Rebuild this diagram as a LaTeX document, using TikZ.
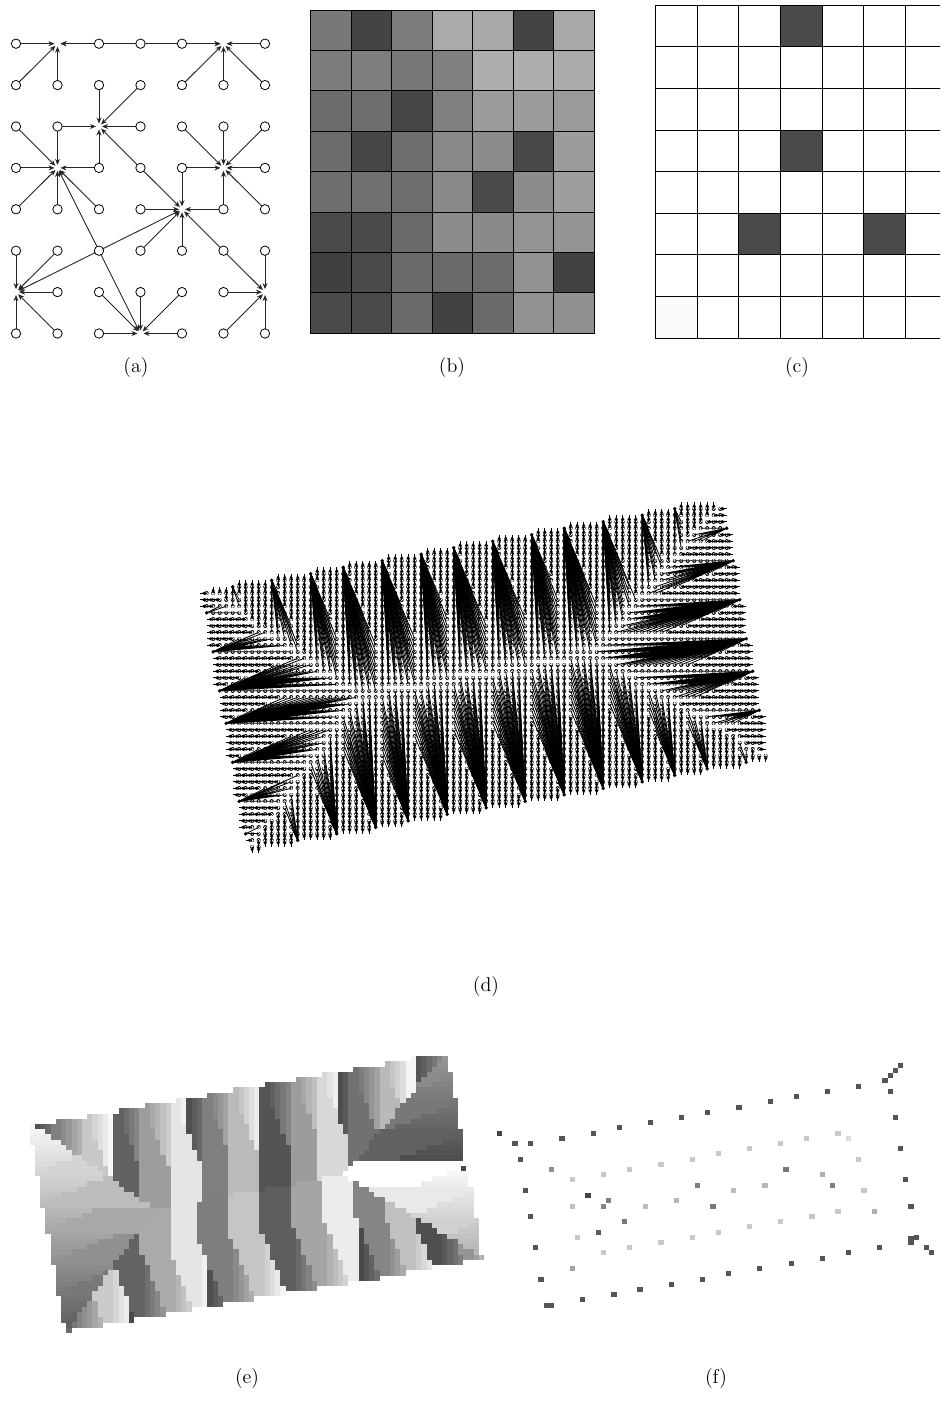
\documentclass[tikz,border=0pt]{standalone}
\usetikzlibrary{arrows.meta}
\newcount\gt
\def\sawg#1#2{\gt=\numexpr #1\relax \divide\gt by #2\relax
  \gt=\numexpr #1-\gt*#2\relax \edef\G{\the\numexpr 74+\gt*174/#2\relax}}
\def\topg#1{\sawg{(#1)*100+50+2910}{1455}}
\def\botg#1{\sawg{(#1)*100-320+14700}{1470}}
\def\leftg#1{\edef\G{\the\numexpr 248-4*(#1)\relax}}
\def\rightg#1{\ifnum#1<7 \edef\G{\the\numexpr 74+(7-(#1))*38/10\relax}\else\edef\G{\the\numexpr 255-((#1)-7)*43/10\relax}\fi}
\def\toplist{-2/0,4/-1,10/-2,16/-3,21/-4,27/-5,33/-6,38/-7,44/-8,50/-9,55/-10,61/-11,67/-12,72/-13}
\def\botlist{8/39,14/38,20/37,26/36,31/35,37/34,43/33,49/32,55/31,61/30,67/29,72/28,77/27,83/26,88/25}
\def\leftlist{0/3,1/9,2/15,3/20,4/26,5/32,6/37,7/44}
\def\rightlist{79/-16,80/-10,81/-5,82/1,83/7,84/12,85/18,86/25}
\def\reallist{4/-1,10/-2,16/-3,21/-4,27/-5,33/-6,38/-7,44/-8,50/-9,55/-10,61/-11,67/-12,72/-13,14/38,20/37,26/36,31/35,37/34,43/33,49/32,55/31,61/30,67/29,72/28,77/27,83/26,0/3,1/9,2/15,3/20,4/26,5/32,6/37,80/-10,81/-5,82/1,83/7,84/12,85/18}
\tikzset{
  circa/.style={circle,draw=black,fill=white,line width=.8pt,minimum size=9.4pt,inner sep=0pt},
  edgea/.style={line width=.9pt,-{Stealth[length=6pt,width=5pt]},shorten >=3pt,color=black!85},
  dotouter/.style={line width=4pt,line cap=round,color=black},
  dotinner/.style={line width=2.7pt,line cap=round,color=white},
  fand/.style={line width=.8pt},
  chaind/.style={line width=1.25pt},
  tipd/.style={fill=black,draw=none},
  gridline/.style={draw=black,line width=.95pt},
  captxt/.style={inner sep=0pt,scale=1.667,font=\fontsize{12}{14}\selectfont},
}
\def\dpt#1#2{\the\dimexpr 206.7pt+6.5pt*(#1)\relax,\the\dimexpr -593.3pt-6.5pt*(#2)\relax}
\def\addpath#1#2{\xdef#1{\unexpanded\expandafter{#1}#2}}
\def\flushpath#1#2{\ifx#2\empty\else\edef\tmpd{\noexpand\draw[#1] \unexpanded\expandafter{#2};}\tmpd\fi\gdef#2{}}
\gdef\pathFan{}\gdef\pathChain{}\gdef\pathTip{}\gdef\pathDot{}
\gdef\runG{-1}\gdef\runS{0}\gdef\runE{0}
\def\eflush{\ifnum\runG<0 \else
  \definecolor{eg}{RGB}{\runG,\runG,\runG}%
  \fill[eg] (\the\dimexpr 29.8pt+5.22pt*\runS\relax,\the\dimexpr -1124pt-5.22pt*\j\relax) rectangle (\the\dimexpr 29.8pt+5.22pt*\runE+5.4pt\relax,\the\dimexpr -1124pt-5.22pt*\j-5.4pt\relax);%
  \fi}
\def\estart{\eflush\xdef\runG{\G}\xdef\runS{\i}\xdef\runE{\i}}
\newcommand{\procpoint}{%
  \edef\X{\the\numexpr 65*\i-3\relax}\edef\Y{\the\numexpr 65*\j+33\relax}%
  \edef\U{\the\numexpr (985*\X-173*\Y)/1000\relax}\edef\V{\the\numexpr (173*\X+985*\Y)/1000\relax}%
  \edef\M{\ifnum\V<1300 \V\else\the\numexpr2600-\V\relax\fi}%
  \edef\DR{\the\numexpr (5230-\U)*855/1000\relax}%
  \def\fan{0}%
  \ifnum\U<\M\relax
    \edef\ee{\the\numexpr\Lr-\j\relax}\edef\dd{\the\numexpr\i-\Lc\relax}%
    \ifcsname rr@\Lc @\Lr\endcsname
      \ifnum\ee=0 \ifnum\dd>0 \def\fan{1}\fi
      \else \ifnum\dd<\numexpr(24*\ee-5)/10\relax\else\def\fan{1}\fi\fi
    \fi
    \ifnum\fan=1 \edef\ti{\Lc}\edef\tj{\Lr}\leftg{\Lr}%
    \else \edef\ti{\the\numexpr\i-1\relax}\edef\tj{\j}\leftg{\j}\fi
  \else\ifnum\DR<\M\relax
    \edef\ee{\the\numexpr\j-\Rr\relax}\edef\dd{\the\numexpr\Rc-\i\relax}%
    \ifcsname rr@\Rc @\Rr\endcsname
      \ifnum\ee=0 \ifnum\dd>0 \def\fan{1}\fi
      \else \ifnum\dd<\numexpr(24*\ee-5)/10\relax\else\def\fan{1}\fi\fi
    \fi
    \ifnum\fan=1 \edef\ti{\Rc}\edef\tj{\Rr}\rightg{\Rr}%
    \else \edef\ti{\the\numexpr\i+1\relax}\edef\tj{\j}\rightg{\j}\fi
  \else\ifnum\V<1300
    \edef\ee{\the\numexpr\i-\Tc\relax}\edef\dd{\the\numexpr\j-\Tr\relax}%
    \ifcsname rr@\Tc @\Tr\endcsname
      \ifnum\ee=0 \ifnum\dd>0 \def\fan{1}\fi
      \else \ifnum\dd<\numexpr(25*\ee-5)/10\relax\else\def\fan{1}\fi\fi
    \fi
    \ifnum\fan=1 \edef\ti{\Tc}\edef\tj{\Tr}\topg{\Tc}%
    \else \edef\ti{\i}\edef\tj{\the\numexpr\j-1\relax}\topg{\i-1}\fi
  \else
    \edef\ee{\the\numexpr\Bc-\i\relax}\edef\dd{\the\numexpr\Br-\j\relax}%
    \ifcsname rr@\Bc @\Br\endcsname
      \ifnum\ee=0 \ifnum\dd>0 \def\fan{1}\fi
      \else \ifnum\dd<\numexpr(25*\ee-5)/10\relax\else\def\fan{1}\fi\fi
    \fi
    \ifnum\fan=1 \edef\ti{\Bc}\edef\tj{\Br}\botg{\Bc}%
    \else \edef\ti{\i}\edef\tj{\the\numexpr\j+1\relax}\botg{\i-1}\fi
  \fi\fi\fi
  \ifcsname rr@\i @\j\endcsname\else
    \ifnum\fan=1 \addpath\pathFan{(\dpt{\i}{\j})--(\dpt{\ti}{\tj}) }%
    \else
      \addpath\pathChain{(\dpt{\i}{\j})--(\dpt{\ti}{\tj}) }%
      \edef\sx{\the\numexpr\ti-\i\relax}\edef\sy{\the\numexpr\j-\tj\relax}%
      \edef\ax{\the\dimexpr 206.7pt+6.5pt*\i+5.1pt*\sx\relax}\edef\ay{\the\dimexpr -593.3pt-6.5pt*\j+5.1pt*\sy\relax}%
      \edef\bx{\the\dimexpr 206.7pt+6.5pt*\i+1.9pt*\sx\relax}\edef\by{\the\dimexpr -593.3pt-6.5pt*\j+1.9pt*\sy\relax}%
      \addpath\pathTip{(\ax,\ay)--(\the\dimexpr\bx+1.8pt*\sy\relax,\the\dimexpr\by+1.8pt*\sx\relax)--(\the\dimexpr\bx-1.8pt*\sy\relax,\the\dimexpr\by-1.8pt*\sx\relax)--cycle }%
    \fi
  \fi
  \edef\Tp{\csname tr@\the\numexpr\i-1\relax\endcsname}%
  \edef\Bn{\csname br@\the\numexpr\i+1\relax\endcsname}%
  \ifnum\j<\Tp\relax\else\ifnum\j>\Bn\relax\else
    \ifnum\G=\runG\relax
      \ifnum\i=\numexpr\runE+1\relax \xdef\runE{\i}\else\estart\fi
    \else\estart\fi
  \fi\fi
}
\newcommand{\fetchbands}{%
  \edef\Tc{\csname tc@\i\endcsname}\edef\Tr{\csname tr@\i\endcsname}%
  \edef\Bc{\csname bc@\i\endcsname}\edef\Br{\csname br@\i\endcsname}%
  \edef\Lc{\csname lc@\j\endcsname}\edef\Lr{\csname lr@\j\endcsname}%
  \edef\Rc{\csname rc@\j\endcsname}\edef\Rr{\csname rx@\j\endcsname}%
}
\begin{document}
\begin{tikzpicture}[x=1pt,y=-1pt]
\useasboundingbox (0,0) rectangle (940,1416);
\clip (0,0) rectangle (940,1416);
% ---------- (a)
\foreach \r/\srcs in {1-0/{0-0,0-1,1-1,2-0,3-0},5-0/{3-0,4-0,4-1,5-1,6-1,6-0},2-2/{2-1,3-1,3-2,1-2,2-3,3-3},1-3/{0-2,1-2,0-3,2-3,0-4,1-4,2-4,2-5},5-3/{4-2,5-2,6-2,4-3,6-3,5-4,6-4},4-4/{3-3,4-3,3-4,5-4,3-5,4-5,5-5,2-5},0-6/{0-5,1-5,1-6,0-7,1-7,2-5},6-6/{5-5,6-5,5-6,5-7,6-7},3-7/{2-5,2-6,3-6,4-6,2-7,4-7}}{
  \expandafter\gdef\csname rta@\r\endcsname{}
}
\foreach \ci in {0,...,6}\foreach \cj in {0,...,7}{
  \coordinate (g\ci-\cj) at (16+41.5*\ci,43.7+41.4*\cj);
}
\foreach \r/\srcs in {1-0/{0-0,0-1,1-1,2-0,3-0},5-0/{3-0,4-0,4-1,5-1,6-1,6-0},2-2/{2-1,3-1,3-2,1-2,2-3,3-3},1-3/{0-2,1-2,0-3,2-3,0-4,1-4,2-4,2-5},5-3/{4-2,5-2,6-2,4-3,6-3,5-4,6-4},4-4/{3-3,4-3,3-4,5-4,3-5,4-5,5-5,2-5},0-6/{0-5,1-5,1-6,0-7,1-7,2-5},6-6/{5-5,6-5,5-6,5-7,6-7},3-7/{2-5,2-6,3-6,4-6,2-7,4-7}}{
  \foreach \s in \srcs { \draw[edgea] (g\s) -- (g\r); }
}
\foreach \ci in {0,...,6}\foreach \cj in {0,...,7}{
  \ifcsname rta@\ci-\cj\endcsname\else
    \node[circa] (n\ci-\cj) at (g\ci-\cj) {};
  \fi
}
% ---------- (b)
\foreach \rowv [count=\ry from 0] in {{78,44,7B,AA,A8,44,A8},{7C,7E,78,80,AE,AE,AB},{6C,6E,46,80,9C,9C,9A},{6C,46,6E,88,8C,48,9C},{6E,70,6E,8A,4A,8C,9E},{4A,4A,6A,8C,8A,94,94},{40,4A,6A,6A,6C,92,42},{4A,4A,6A,42,6A,92,90}}{
  \foreach \v [count=\cx from 0] in \rowv {
    \definecolor{bc}{HTML}{\v\v\v}
    \draw[gridline,fill=bc] (310.7+40.52*\cx,10+40.42*\ry) rectangle +(40.52,40.42);
  }
}
% ---------- (c)
\foreach \cx in {0,...,6}\foreach \cy in {0,...,7}{
  \draw[gridline,fill=white] (655.7+41.6*\cx,5.3+41.6*\cy) rectangle +(41.6,41.6);
}
\foreach \cx/\cy in {3/0,3/3,2/5,5/5}{
  \draw[gridline,fill=black!71] (655.7+41.6*\cx,5.3+41.6*\cy) rectangle +(41.6,41.6);
}
\draw[gridline,fill=black!2] (655.7,5.3+41.6*7) rectangle +(41.6,41.6);
% ---------- lookup tables for (d) and (e)
\foreach \c in {-1,...,88}{
  \foreach \a/\b in \toplist { \ifnum\a>\c\relax\else
     \expandafter\xdef\csname tc@\c\endcsname{\a}\expandafter\xdef\csname tr@\c\endcsname{\b}\fi }
  \foreach \a/\b in \botlist { \ifnum\a<\c\relax\else \ifcsname bc@\c\endcsname\else
     \expandafter\xdef\csname bc@\c\endcsname{\a}\expandafter\xdef\csname br@\c\endcsname{\b}\fi\fi }
}
\foreach \c in {-14,...,40}{
  \foreach \a/\b in \leftlist { \ifnum\b<\c\relax\else \ifcsname lc@\c\endcsname\else
     \expandafter\xdef\csname lc@\c\endcsname{\a}\expandafter\xdef\csname lr@\c\endcsname{\b}\fi\fi }
  \foreach \a/\b in \rightlist { \ifnum\b>\c\relax\else
     \expandafter\xdef\csname rc@\c\endcsname{\a}\expandafter\xdef\csname rx@\c\endcsname{\b}\fi }
}
\foreach \a/\b in \reallist { \expandafter\gdef\csname rr@\a @\b\endcsname{} }
% ---------- (d): hollow dots of every lattice point but the roots
\foreach \j in {-13,...,39}{
  \foreach \i in {0,...,86}{%
    \fetchbands
    \ifnum\j<\Tr\relax\else\ifnum\j>\Br\relax\else\ifnum\i<\Lc\relax\else\ifnum\i>\Rc\relax\else
      \ifcsname rr@\i @\j\endcsname\else
        \addpath\pathDot{(\dpt{\i}{\j})--++(.02pt,0pt) }%
      \fi
    \fi\fi\fi\fi
  }%
  \let\pathDotB\pathDot
  \flushpath{dotouter}{\pathDot}%
  \flushpath{dotinner}{\pathDotB}%
}
% ---------- (d) links and (e) blocks
\foreach \j in {-13,...,39}{
  \foreach \i in {0,...,86}{%
    \fetchbands
    \ifnum\j<\Tr\relax\else\ifnum\j>\Br\relax\else\ifnum\i<\Lc\relax\else\ifnum\i>\Rc\relax\else
      \procpoint
    \fi\fi\fi\fi
  }%
  \eflush\gdef\runG{-1}%
  \flushpath{fand}{\pathFan}%
  \flushpath{chaind}{\pathChain}%
  \flushpath{tipd}{\pathTip}%
}
\foreach \a/\b in \reallist { \fill[black] (\dpt{\a}{\b}) circle[radius=1.9pt]; }
\definecolor{eg}{HTML}{4A4A4A}
\fill[eg] (460.7,1165.7) rectangle +(5.4,5.4);
% ---------- (f)
\begin{scope}[shift={(480,1040)},x=.33333pt,y=-.33333pt]
\foreach \zx/\zy/\g/\w in {1261/76/55/15,1246/91/55/15,1231/106/55/15,1214/121/55/18,1231/154/55/15,1135/138/55/15,1042/154/55/15,949/169/55/15,871/184/55/15,777/201/55/18,682/217/55/15,604/232/55/15,511/247/55/15,418/262/55/15,340/279/55/15,246/295/55/18,151/310/55/15,105/310/55/18,58/279/44/15,121/357/55/15,136/451/55/15,151/529/55/15,166/622/55/15,183/717/55/18,207/795/55/30,307/778/55/15,402/763/55/18,480/748/55/18,574/733/55/15,667/717/55/15,745/700/55/15,838/685/55/15,934/670/55/15,1027/654/55/15,1105/637/55/15,1198/622/55/15,1293/594/55/18,1293/607/55/18,1308/592/55/15,1339/622/55/15,1354/637/55/15,1293/498/55/18,1276/418/55/15,1261/325/55/15,1246/232/55/15,323/466/44/18,355/576/5C/15,214/388/90/15,385/481/80/15,370/498/88/15,433/544/78/15,652/435/80/15,699/498/78/18,918/388/78/18,1057/435/80/15,277/685/A4/15,1027/403/B0/15,1183/514/B0/15,760/451/BC/15,855/435/B8/18,589/481/B8/15,496/498/BC/15,277/498/C0/15,2/651/B8/8,277/418/C8/15,370/403/C8/15,448/388/C8/15,543/373/C8/18,637/357/C8/15,715/340/C8/15,808/325/C8/15,901/310/C8/15,979/295/C8/15,1074/279/C8/18,1105/295/DC/15,1135/357/C8/15,1152/451/C8/18,1074/514/C8/18,995/529/C8/18,901/544/C8/15,808/559/C8/15,715/576/C8/15,637/592/C8/15,543/607/C8/18,448/622/C8/15,370/637/C8/15,292/592/C8/15}{
  \definecolor{fc}{HTML}{\g\g\g}
  \fill[fc] ({\zx-\w/2},{\zy-7.5}) rectangle +(\w,15);
}
\end{scope}
% ---------- captions
\node[captxt] (capa) at (136,368) {(a)};
\node[captxt] (capb) at (452,368) {(b)};
\node[captxt] (capc) at (797,368) {(c)};
\node[captxt] (capd) at (486,986) {(d)};
\node[captxt] (cape) at (247,1378) {(e)};
\node[captxt] (capf) at (716,1378) {(f)};
\end{tikzpicture}
\end{document}
